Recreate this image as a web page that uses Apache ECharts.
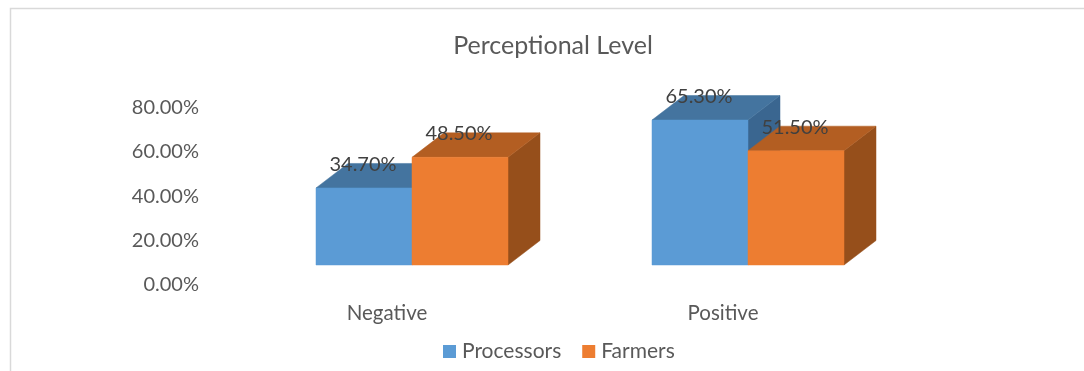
<!DOCTYPE html>
<html>
<head>
<meta charset="utf-8">
<title>Perceptional Level</title>
<style>
html, body { margin: 0; padding: 0; background: #fff; }
#chart { width: 1084px; height: 371px; }
</style>
<script src="https://cdn.jsdelivr.net/npm/echarts@6/dist/echarts.min.js"></script>
</head>
<body>
<div id="chart"></div>
<script>
// Chart values
const categories = ['Negative', 'Positive'];
const processors = [34.7, 65.3];
const farmers = [48.5, 51.5];
const yTicks = { min: 0, max: 80, interval: 20 };

const FONT = 'Lato';
const TEXT = '#595959';

// Shifts the bars off the floor plane and gives them their depth
const FLOOR_DX = 25, FLOOR_DY = -20;
const DEPTH_DX = 32, DEPTH_DY = -24.5;

// slot: 0 sits left of the category centre, 1 right of it
function cuboid(slot, colors) {
  return function (params, api) {
    const base = api.coord([api.value(0), 0]);
    const top = api.coord([api.value(0), api.value(1)]);
    const w = api.size([1, 0])[0] * 2 / 7;
    const x0 = base[0] + FLOOR_DX + (slot - 1) * w;
    const x1 = x0 + w;
    const yb = base[1] + FLOOR_DY;
    const yt = top[1] + FLOOR_DY;
    const poly = (points, fill) => ({
      type: 'polygon',
      shape: { points },
      style: { fill, stroke: fill, lineWidth: 0.5 }
    });
    return {
      type: 'group',
      children: [
        poly([[x1, yb], [x1 + DEPTH_DX, yb + DEPTH_DY], [x1 + DEPTH_DX, yt + DEPTH_DY], [x1, yt]], colors.side),
        poly([[x0, yt], [x0 + DEPTH_DX, yt + DEPTH_DY], [x1 + DEPTH_DX, yt + DEPTH_DY], [x1, yt]], colors.top),
        poly([[x0, yb], [x1, yb], [x1, yt], [x0, yt]], colors.front),
        {
          type: 'text',
          z2: 10,
          style: {
            x: (x0 + x1) / 2 - 1,
            y: yt - 23.5,
            text: api.value(1).toFixed(2) + '%',
            fill: '#404040',
            font: '20px ' + FONT,
            align: 'center',
            verticalAlign: 'middle'
          }
        }
      ]
    };
  };
}

function barSeries(name, values, slot, colors) {
  return {
    name,
    type: 'custom',
    renderItem: cuboid(slot, colors),
    clip: false,
    itemStyle: { color: colors.front },
    encode: { x: 0, y: 1 },
    data: values.map((v, i) => [i, v])
  };
}

const chart = echarts.init(document.getElementById('chart'), null, { renderer: 'canvas' });
chart.setOption({
  animation: false,
  backgroundColor: '#ffffff',
  title: {
    text: 'Perceptional Level',
    left: 548,
    top: 28,
    textAlign: 'center',
    textStyle: { color: TEXT, fontFamily: FONT, fontSize: 25, fontWeight: 'normal' }
  },
  legend: {
    left: 443,
    top: 341,
    padding: 0,
    itemWidth: 13,
    itemHeight: 13,
    itemGap: 21,
    icon: 'rect',
    textStyle: { color: TEXT, fontFamily: FONT, fontSize: 21, padding: [0, 0, 2, 1] },
    data: ['Processors', 'Farmers']
  },
  grid: { left: 219, top: 107.4, width: 672, height: 177.6 },
  xAxis: {
    type: 'category',
    data: categories,
    axisLine: { show: false },
    axisTick: { show: false },
    axisLabel: { color: TEXT, fontFamily: FONT, fontSize: 20.5, margin: 18 }
  },
  yAxis: {
    type: 'value',
    min: yTicks.min,
    max: yTicks.max,
    interval: yTicks.interval,
    axisLine: { show: false },
    axisTick: { show: false },
    splitLine: { show: false },
    axisLabel: {
      color: TEXT,
      fontFamily: FONT,
      fontSize: 20,
      margin: 20,
      formatter: v => v.toFixed(2) + '%'
    }
  },
  series: [
    barSeries('Processors', processors, 0, { front: '#5B9BD5', top: '#44749F', side: '#3A6690' }),
    barSeries('Farmers', farmers, 1, { front: '#ED7D31', top: '#B35E22', side: '#964F1B' })
  ],
  // Chart-area frame: only its top and left edges fall inside the page
  graphic: [{
    type: 'polyline',
    silent: true,
    shape: { points: [[10.5, 371], [10.5, 8.5], [1084, 8.5]] },
    style: { fill: 'none', stroke: '#d9d9d9', lineWidth: 1.5 }
  }]
});
</script>
</body>
</html>
